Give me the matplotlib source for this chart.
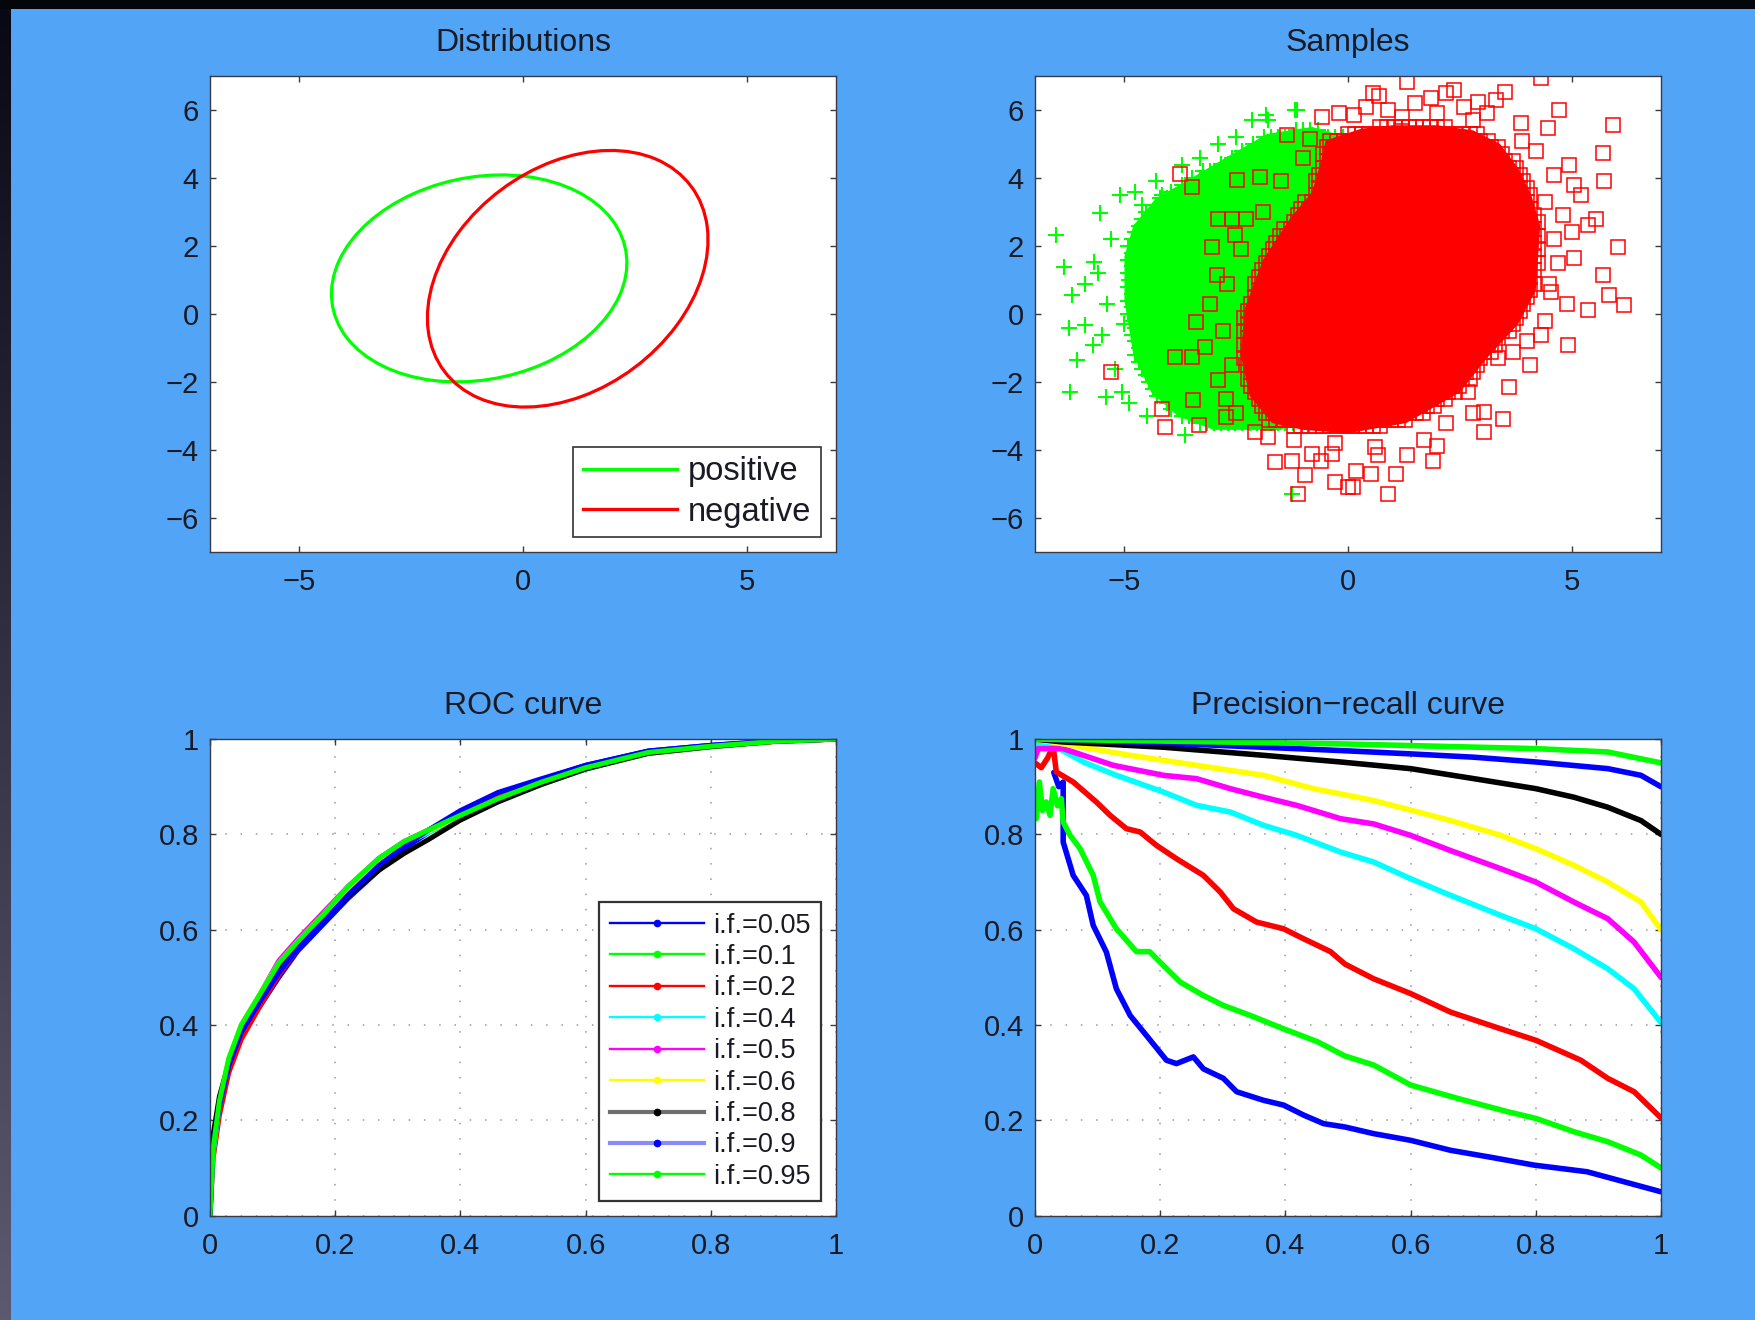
import matplotlib
matplotlib.use("Agg")
import matplotlib.pyplot as plt
import numpy as np
from matplotlib.lines import Line2D
from matplotlib.patches import Ellipse, Rectangle
from matplotlib.path import Path
from matplotlib.ticker import FuncFormatter

plt.rcParams["font.family"] = ["Liberation Sans", "DejaVu Sans"]

BG = "#52a5f6"
INK = "#1a1a24"

# ---- Distributions: contour ellipses (center, full width/height, angle in deg)
ell_labels = ["positive", "negative"]
ell_colors = ["#00ff00", "#ff0000"]
ell_cx = [-0.98, 1.0]
ell_cy = [1.05, 1.04]
ell_w = [6.87, 8.06]
ell_h = [5.78, 5.59]
ell_angle = [30.5, 60.6]

# ---- Samples: dense core outlines and visible stray samples
pos_core_x = [-4.8, -4.3, -3.5, -2.6, -1.8, -0.8, 0.5, 1.0, 0.5, -1.5, -3.0, -3.8, -4.4, -4.8, -5.0, -5.0]
pos_core_y = [2.6, 3.4, 4.0, 4.7, 5.3, 5.5, 5.0, 2.0, -2.0, -3.4, -3.4, -3.0, -2.3, -1.2, 0.4, 1.7]
pos_x = [-6.54, -6.36, -6.17, -6.25, -6.06, -6.21, -5.42, -5.05, -5.69, -5.88, -5.54, -5.10,
         -4.76, -4.17, -3.72, -2.15, -1.78, -1.19, -3.64, -1.26, -5.5, -5.88, -5.3, -5.6,
         -5.4, -5.7, -5.2, -4.9, -4.5, -4.3, -3.3, -2.9, -2.5, -4.6, -5.0, -4.9, -1.83, -1.15]
pos_y = [2.32, 1.39, 0.56, -0.42, -1.35, -2.29, -2.44, -2.29, 1.54, 0.9, 2.96, 3.5,
         3.6, 3.5, 4.38, 5.7, 5.7, 5.99, -3.56, -5.27, -0.62, -0.32, 2.2, 1.2,
         0.3, -0.9, -1.6, -2.6, -3.0, 3.9, 4.6, 5.0, 5.2, 3.2, -0.3, 1.0, 5.86, 6.0]

neg_core_x = [-0.5, 0.3, 1.0, 2.0, 2.8, 3.4, 3.8, 4.1, 4.3, 4.2, 3.8, 3.1, 2.5, 1.3, 0.0, -1.0,
              -1.7, -2.2, -2.4, -2.3, -1.9, -1.3, -0.8, -0.6]
neg_core_y = [5.1, 5.45, 5.55, 5.55, 5.4, 5.0, 4.3, 3.5, 2.6, 0.7, -0.3, -1.3, -2.3, -3.2, -3.5, -3.4,
              -3.2, -2.4, -1.2, 0.2, 1.6, 2.8, 3.6, 4.5]
neg_x = [-3.75, -3.49, -5.31, -4.16, -4.09, -3.46, -3.34, -2.48, -1.96, -1.36, -0.58, 0.13,
         -0.84, -2.9, -2.6, -2.27, -3.05, -2.53, -2.93, -3.08, -3.41, -3.86, -3.49, -3.19,
         -2.9, -2.08, -1.63, -1.26, -0.96, -1.11, -0.29, 0.12, -2.73, -2.73, -0.81, -0.36,
         1.31, 0.56, 2.38, 3.50, 4.32, 4.73, 5.92, 5.7, 4.95, 5.73, 5.55, 6.03, 5.7, 5.84,
         6.18, 5.36, 4.91, 4.06, 3.61, 3.46, 3.05, 2.0, 1.31, 1.08, 0.9, 0.0, 0.52, 0.19,
         1.86, 2.9, 3.87, 4.47, 5.06, 5.36, 5.06, 4.54, 4.32, 3.35, 2.68, 3.05, 0.67,
         -0.2, 0.4, 0.9, 1.5, 2.0, 2.6, 3.1, 3.3, 0.7, 2.2, 1.2, 2.8,
         4.6, 4.4, 4.8, 4.6, 5.0, 4.7, 4.5, 4.9, 4.4, 4.0, 3.7, 5.2, 4.2, 3.9,
         2.2, 1.7, 0.6, -0.3, -1.2, -1.8, 2.8, -0.6, 1.9,
         -2.6, -2.7, -2.4, -1.9, -1.5, -1.0, -2.8, -2.5]
neg_y = [4.13, 3.74, -1.7, -2.78, -3.31, -2.53, -3.27, 3.94, 4.04, 5.26, 5.8, 5.85,
         5.16, 2.8, 2.8, 2.8, 1.98, 2.32, 1.14, 0.31, -0.23, -1.26, -1.26, -0.96,
         -1.94, -3.46, -4.35, -4.3, -4.74, -5.27, -4.93, -5.08, -3.02, -2.48, -4.1, -4.1,
         6.83, 6.49, 6.59, 6.54, 6.93, 6.0, 5.56, 4.73, 4.38, 3.9, 2.81, 1.98, 1.14, 0.55,
         0.26, 0.11, -0.91, -1.5, -2.14, -3.08, -3.47, -3.86, -4.15, -4.69, -5.27, -5.08, -4.69, -4.6,
         6.34, 6.24, 5.61, 5.46, 3.8, 2.62, 1.64, 0.66, -0.62, -1.3, -2.28, -2.87, -4.15,
         5.9, 6.1, 6.0, 6.2, 5.9, 6.1, 5.9, 6.3, 6.4, 6.5, 5.8, 5.7,
         4.1, 3.3, 2.9, 2.2, 2.4, 1.5, 0.9, 0.3, -0.2, -0.8, -1.1, 3.5, 4.8, 5.1,
         -3.2, -3.7, -3.9, -3.8, -3.7, -3.6, -2.9, -4.3, -4.3,
         -1.5, 0.9, 1.9, 3.0, 3.9, 4.6, -0.5, -2.9]

# ---- ROC curves
if_labels = ["i.f.=0.05", "i.f.=0.1", "i.f.=0.2", "i.f.=0.4", "i.f.=0.5",
             "i.f.=0.6", "i.f.=0.8", "i.f.=0.9", "i.f.=0.95"]
if_colors = ["#0000ff", "#00ff00", "#ff0000", "#00ffff", "#ff00ff",
             "#ffff00", "#000000", "#0000ff", "#00ff00"]
roc_fpr = [0, 0.005, 0.015, 0.03, 0.05, 0.08, 0.11, 0.14, 0.18, 0.22, 0.27, 0.31, 0.35,
           0.40, 0.46, 0.53, 0.60, 0.70, 0.80, 0.90, 1.0]
roc_tpr_005 = [0, 0.16, 0.22, 0.31, 0.38, 0.44, 0.50, 0.555, 0.61, 0.665, 0.725, 0.77, 0.805,
               0.845, 0.885, 0.915, 0.945, 0.975, 0.987, 0.996, 1.0]
roc_tpr_010 = [0, 0.13, 0.235, 0.325, 0.395, 0.46, 0.525, 0.57, 0.625, 0.685, 0.745, 0.78, 0.805,
               0.835, 0.87, 0.905, 0.937, 0.97, 0.984, 0.995, 1.0]
roc_tpr_020 = [0, 0.12, 0.21, 0.30, 0.37, 0.44, 0.505, 0.56, 0.62, 0.68, 0.74, 0.78, 0.81,
               0.845, 0.88, 0.91, 0.94, 0.971, 0.985, 0.995, 1.0]
roc_tpr_040 = [0, 0.13, 0.23, 0.32, 0.395, 0.46, 0.52, 0.57, 0.625, 0.685, 0.745, 0.78, 0.805,
               0.84, 0.872, 0.907, 0.938, 0.97, 0.984, 0.995, 1.0]
roc_tpr_050 = [0, 0.14, 0.235, 0.325, 0.40, 0.465, 0.535, 0.58, 0.635, 0.69, 0.75, 0.785, 0.81,
               0.842, 0.874, 0.908, 0.939, 0.971, 0.985, 0.995, 1.0]
roc_tpr_060 = [0, 0.15, 0.245, 0.33, 0.40, 0.465, 0.53, 0.575, 0.63, 0.688, 0.748, 0.783, 0.808,
               0.838, 0.872, 0.906, 0.938, 0.97, 0.984, 0.995, 1.0]
roc_tpr_080 = [0, 0.17, 0.25, 0.32, 0.39, 0.455, 0.515, 0.565, 0.615, 0.67, 0.725, 0.76, 0.79,
               0.83, 0.868, 0.905, 0.937, 0.97, 0.984, 0.995, 1.0]
roc_tpr_090 = [0, 0.15, 0.23, 0.315, 0.385, 0.45, 0.51, 0.56, 0.615, 0.672, 0.735, 0.775, 0.81,
               0.85, 0.888, 0.917, 0.945, 0.975, 0.987, 0.996, 1.0]
roc_tpr_095 = [0, 0.14, 0.24, 0.33, 0.40, 0.465, 0.53, 0.575, 0.63, 0.69, 0.75, 0.785, 0.81,
               0.84, 0.875, 0.91, 0.94, 0.972, 0.985, 0.995, 1.0]

# ---- Precision-recall curves
pr_rec_005 = [0.03, 0.038, 0.045, 0.045, 0.061, 0.082, 0.093, 0.114, 0.130, 0.152, 0.178, 0.210,
              0.226, 0.253, 0.269, 0.301, 0.322, 0.365, 0.397, 0.429, 0.461, 0.495, 0.541, 0.600,
              0.664, 0.730, 0.797, 0.882, 0.941, 1.0]
pr_pre_005 = [0.93, 0.90, 0.91, 0.784, 0.714, 0.672, 0.609, 0.553, 0.476, 0.42, 0.378, 0.326,
              0.319, 0.333, 0.308, 0.288, 0.260, 0.242, 0.232, 0.211, 0.193, 0.186, 0.172, 0.158,
              0.137, 0.122, 0.106, 0.092, 0.071, 0.05]
pr_rec_010 = [0.0, 0.002, 0.007, 0.012, 0.018, 0.024, 0.029, 0.036, 0.042, 0.045, 0.056, 0.072,
              0.093, 0.104, 0.130, 0.162, 0.183, 0.205, 0.232, 0.269, 0.301, 0.344, 0.397, 0.451,
              0.495, 0.541, 0.600, 0.675, 0.755, 0.800, 0.861, 0.915, 0.968, 1.0]
pr_pre_010 = [0.88, 0.833, 0.91, 0.85, 0.868, 0.84, 0.896, 0.86, 0.875, 0.826, 0.798, 0.770,
              0.714, 0.658, 0.602, 0.554, 0.554, 0.525, 0.490, 0.462, 0.441, 0.420, 0.392, 0.365,
              0.335, 0.316, 0.274, 0.246, 0.218, 0.204, 0.176, 0.155, 0.127, 0.10]
pr_rec_020 = [0.0, 0.01, 0.02, 0.029, 0.034, 0.061, 0.098, 0.120, 0.146, 0.168, 0.194, 0.226,
              0.269, 0.296, 0.317, 0.354, 0.397, 0.429, 0.472, 0.495, 0.541, 0.600, 0.664, 0.744,
              0.800, 0.872, 0.915, 0.957, 1.0]
pr_pre_020 = [0.95, 0.94, 0.96, 0.985, 0.931, 0.910, 0.868, 0.840, 0.812, 0.805, 0.777, 0.749,
              0.714, 0.679, 0.644, 0.616, 0.602, 0.581, 0.554, 0.528, 0.497, 0.466, 0.427, 0.392,
              0.368, 0.326, 0.288, 0.260, 0.205]
pr_rec_040 = [0.0, 0.029, 0.077, 0.130, 0.205, 0.258, 0.312, 0.365, 0.418, 0.488, 0.541, 0.600,
              0.664, 0.744, 0.800, 0.861, 0.915, 0.957, 1.0]
pr_pre_040 = [0.99, 0.987, 0.952, 0.924, 0.889, 0.861, 0.847, 0.819, 0.798, 0.763, 0.742, 0.707,
              0.672, 0.630, 0.602, 0.560, 0.518, 0.476, 0.405]
pr_rec_050 = [0.0, 0.005, 0.045, 0.125, 0.205, 0.258, 0.312, 0.365, 0.418, 0.488, 0.541, 0.600,
              0.664, 0.744, 0.800, 0.861, 0.915, 0.957, 1.0]
pr_pre_050 = [0.96, 0.98, 0.98, 0.945, 0.924, 0.917, 0.896, 0.878, 0.861, 0.833, 0.822, 0.798,
              0.766, 0.728, 0.700, 0.658, 0.623, 0.574, 0.50]
pr_rec_060 = [0.0, 0.045, 0.152, 0.258, 0.365, 0.445, 0.488, 0.541, 0.600, 0.664, 0.744, 0.800,
              0.861, 0.915, 0.968, 1.0]
pr_pre_060 = [1.0, 0.99, 0.966, 0.945, 0.924, 0.896, 0.885, 0.871, 0.851, 0.829, 0.798, 0.770,
              0.735, 0.700, 0.658, 0.60]
pr_rec_080 = [0.0, 0.045, 0.205, 0.365, 0.488, 0.600, 0.701, 0.800, 0.861, 0.915, 0.968, 1.0]
pr_pre_080 = [1.0, 0.994, 0.983, 0.966, 0.952, 0.938, 0.917, 0.896, 0.878, 0.857, 0.829, 0.80]
pr_rec_090 = [0.0, 0.2, 0.488, 0.600, 0.701, 0.800, 0.915, 0.968, 1.0]
pr_pre_090 = [1.0, 0.992, 0.976, 0.969, 0.962, 0.952, 0.938, 0.924, 0.90]
pr_rec_095 = [0.0, 0.488, 0.800, 0.915, 1.0]
pr_pre_095 = [1.0, 0.99, 0.980, 0.973, 0.95]

roc_tprs = [roc_tpr_005, roc_tpr_010, roc_tpr_020, roc_tpr_040, roc_tpr_050,
            roc_tpr_060, roc_tpr_080, roc_tpr_090, roc_tpr_095]
pr_recs = [pr_rec_005, pr_rec_010, pr_rec_020, pr_rec_040, pr_rec_050,
           pr_rec_060, pr_rec_080, pr_rec_090, pr_rec_095]
pr_pres = [pr_pre_005, pr_pre_010, pr_pre_020, pr_pre_040, pr_pre_050,
           pr_pre_060, pr_pre_080, pr_pre_090, pr_pre_095]


def core_points(px, py, dx, dy):
    # lattice of sample positions filling a dense region outline
    path = Path(np.column_stack([px, py]))
    gx, gy = np.meshgrid(np.arange(min(px), max(px), dx), np.arange(min(py), max(py), dy))
    gx[1::2] += dx / 2
    pts = np.column_stack([gx.ravel(), gy.ravel()])
    return pts[path.contains_points(pts)]


def style_axes(ax, title):
    ax.set_facecolor("white")
    for sp in ax.spines.values():
        sp.set_color("#3a3a44")
        sp.set_linewidth(1.0)
        sp.set_zorder(5)
    ax.tick_params(direction="in", length=4.5, width=1.0, color="#3a3a44",
                   top=True, right=True, labelsize=21, labelcolor=INK)
    ax.tick_params(axis="x", pad=11.5)
    ax.tick_params(axis="y", pad=8)
    ax.set_title(title, fontsize=23, color=INK, pad=18)


fig = plt.figure(figsize=(17.55, 13.2), dpi=100, facecolor=BG)

# screen-capture border: dark top strip and shaded left strip
fig.patches.append(Rectangle((0, 1 - 9 / 1320), 1, 9 / 1320, transform=fig.transFigure,
                             facecolor="#05050c", edgecolor="none", zorder=5))
strip = fig.add_axes([0, 0, 11 / 1755, 1 - 9 / 1320])
grad = np.linspace(0, 1, 256)[:, None]
top_c = np.array([8, 8, 22]) / 255
bot_c = np.array([92, 90, 112]) / 255
strip.imshow((top_c + grad[..., None] * (bot_c - top_c)).reshape(256, 1, 3), aspect="auto")
strip.axis("off")

left_x, right_x = 210 / 1755, 1035 / 1755
col_w = 626 / 1755
top_y, bot_y = 767.6 / 1320, 104.4 / 1320
row_h = 476.5 / 1320

ax1 = fig.add_axes([left_x, top_y, col_w, row_h])
ax2 = fig.add_axes([right_x, top_y, col_w, row_h])
ax3 = fig.add_axes([left_x, bot_y, col_w, row_h])
ax4 = fig.add_axes([right_x, bot_y, col_w, row_h])

# Distributions
for cx, cy, w, h, a, c in zip(ell_cx, ell_cy, ell_w, ell_h, ell_angle, ell_colors):
    ax1.add_patch(Ellipse((cx, cy), w, h, angle=a, fill=False, edgecolor=c, linewidth=2.3))
ax1.set_xlim(-7, 7)
ax1.set_ylim(-7, 7)
ax1.set_xticks([-5, 0, 5])
ax1.set_yticks([-6, -4, -2, 0, 2, 4, 6])
style_axes(ax1, "Distributions")
h1 = [Line2D([0], [0], color=c, lw=2.4) for c in ell_colors]
leg1 = ax1.legend(h1, ell_labels, loc="lower right", fontsize=23.5, frameon=True,
                  fancybox=False, framealpha=1, edgecolor="#333333", borderaxespad=0.46,
                  borderpad=0.3, handlelength=2.9, handletextpad=0.32, labelspacing=0.28)
leg1.get_frame().set_linewidth(1.2)
for t in leg1.get_texts():
    t.set_color(INK)

# Samples: positives first, negatives drawn on top
pos_core = core_points(pos_core_x, pos_core_y, 0.16, 0.2)
neg_core = core_points(neg_core_x, neg_core_y, 0.16, 0.2)
ax2.fill(pos_core_x, pos_core_y, color="#00ff00", lw=0, zorder=1.0)
ax2.plot(pos_core[:, 0], pos_core[:, 1], "+", color="#00ff00", ms=12, mew=1.5, zorder=1.1)
ax2.plot(pos_x, pos_y, "+", color="#00ff00", ms=12, mew=1.5, zorder=1.2)
ax2.fill(neg_core_x, neg_core_y, color="#ff0000", lw=0, zorder=2.0)
ax2.plot(neg_core[:, 0], neg_core[:, 1], "s", mfc="none", mec="#ff0000", ms=9.4, mew=1.1,
         zorder=2.1)
ax2.plot(neg_x, neg_y, "s", mfc="none", mec="#ff0000", ms=9.4, mew=1.1, zorder=2.2)
ax2.set_xlim(-7, 7)
ax2.set_ylim(-7, 7)
ax2.set_xticks([-5, 0, 5])
ax2.set_yticks([-6, -4, -2, 0, 2, 4, 6])
style_axes(ax2, "Samples")

fmt = FuncFormatter(lambda v, _: f"{v:g}")
ticks01 = [0, 0.2, 0.4, 0.6, 0.8, 1]

# ROC curve
for tpr, c in zip(roc_tprs, if_colors):
    ax3.plot(roc_fpr, tpr, color=c, lw=3.6, solid_capstyle="round", solid_joinstyle="round")
ax3.set_xlim(0, 1)
ax3.set_ylim(0, 1)
style_axes(ax3, "ROC curve")

leg_colors = list(if_colors)
leg_line_colors = list(if_colors)
leg_line_colors[6] = "#6e6e6e"
leg_line_colors[7] = "#8a8aff"
leg_lw = [1.7] * 9
leg_lw[6] = 3.0
leg_lw[7] = 3.0
h3 = [Line2D([0], [0], color=lc, lw=lw, marker="o", ms=4.5, mfc=c, mec=c)
      for lc, lw, c in zip(leg_line_colors, leg_lw, leg_colors)]
leg3 = ax3.legend(h3, if_labels, loc="lower right", fontsize=19.5, frameon=True,
                  fancybox=False, framealpha=1, edgecolor="#333333", borderaxespad=0.55,
                  borderpad=0.4, handlelength=3.45, handletextpad=0.34, labelspacing=0.2)
leg3.get_frame().set_linewidth(1.6)
for t in leg3.get_texts():
    t.set_color(INK)

# Precision-recall curve
for rec, pre, c in zip(pr_recs, pr_pres, if_colors):
    ax4.plot(rec, pre, color=c, lw=4.0, solid_capstyle="round", solid_joinstyle="round")
ax4.set_xlim(0, 1)
ax4.set_ylim(0, 1)
style_axes(ax4, "Precision\u2212recall curve")

for ax in (ax3, ax4):
    ax.set_xticks(ticks01)
    ax.set_yticks(ticks01)
    ax.xaxis.set_major_formatter(fmt)
    ax.yaxis.set_major_formatter(fmt)
    ax.grid(True, color="#9a9a9a", linestyle=(0, (1, 9)), linewidth=1.1)
    ax.set_axisbelow(True)

fig.savefig("out.png", dpi=100, facecolor=BG)
